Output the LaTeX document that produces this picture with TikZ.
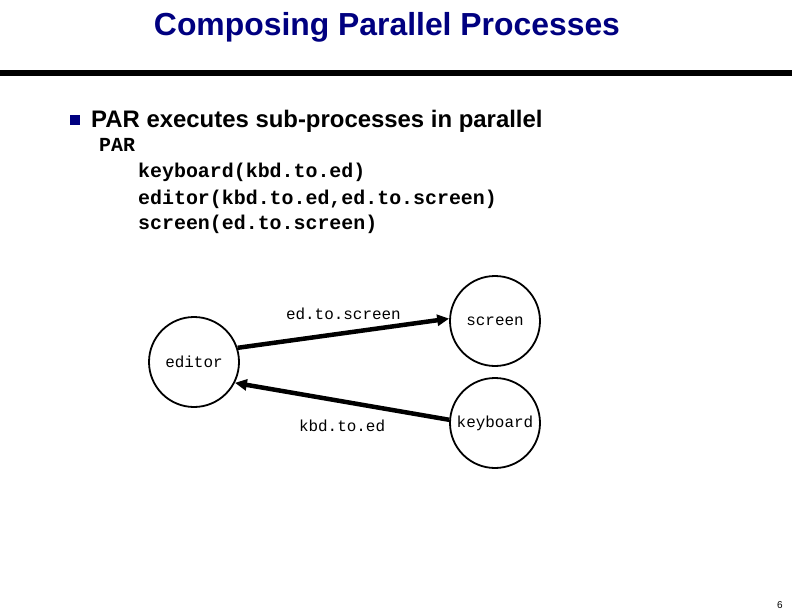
\documentclass[tikz,border=0pt]{standalone}
\usepackage{fontspec}
\setmainfont{Liberation Sans}
\setmonofont{Liberation Mono}
\usetikzlibrary{arrows.meta,positioning}

\definecolor{slideblue}{RGB}{0,0,128}

\tikzset{
    proc/.style={circle, draw, line width=1.8bp, minimum size=90bp, inner sep=0pt,
        font=\ttfamily\fontsize{16}{16}\selectfont},
    chan/.style={line width=4.5bp, -{Triangle[length=12bp,width=11bp]}},
    chanlbl/.style={font=\ttfamily\fontsize{16}{16}\selectfont},
    code/.style={anchor=base west, inner sep=0pt, font=\ttfamily\bfseries\fontsize{20}{20}\selectfont},
}

\begin{document}
\begin{tikzpicture}[x=1bp, y=-1bp]
    \useasboundingbox (0,0) rectangle (792,612);

    % heading
    \node[anchor=base, inner sep=0pt, text=slideblue, font=\bfseries\fontsize{32}{36}\selectfont]
        at (387,36)(title){Composing Parallel Processes};
    \draw[line width=6bp] (0,73) -- (792,73);

    % bullet and code
    \fill[slideblue] (70,115) rectangle (80,125);
    \node[anchor=base west, inner sep=0pt, font=\bfseries\fontsize{24}{28}\selectfont]
        at (91,128)(point){PAR executes sub-processes in parallel};
    \node[code] at (99,152)(par){PAR};
    \node[code] at (138,178)(kbdline){keyboard(kbd.to.ed)};
    \node[code] at (138,205)(edline){editor(kbd.to.ed,ed.to.screen)};
    \node[code] at (138,230)(scrline){screen(ed.to.screen)};

    % processes
    \node[proc] at (194,362)(editor){editor};
    \node[proc] at (495,321)(screen){screen};
    \node[proc] at (495,423)(keyboard){keyboard};

    \path[chan]
        (editor.18) edge node[chanlbl, above=8bp]{ed.to.screen} (screen.177)
        (keyboard.176) edge node[chanlbl, below=13bp]{kbd.to.ed} (editor.333)
        ;

    \node[anchor=base, inner sep=0pt, font=\fontsize{10}{12}\selectfont] at (780,608)(pageno){6};
\end{tikzpicture}
\end{document}
